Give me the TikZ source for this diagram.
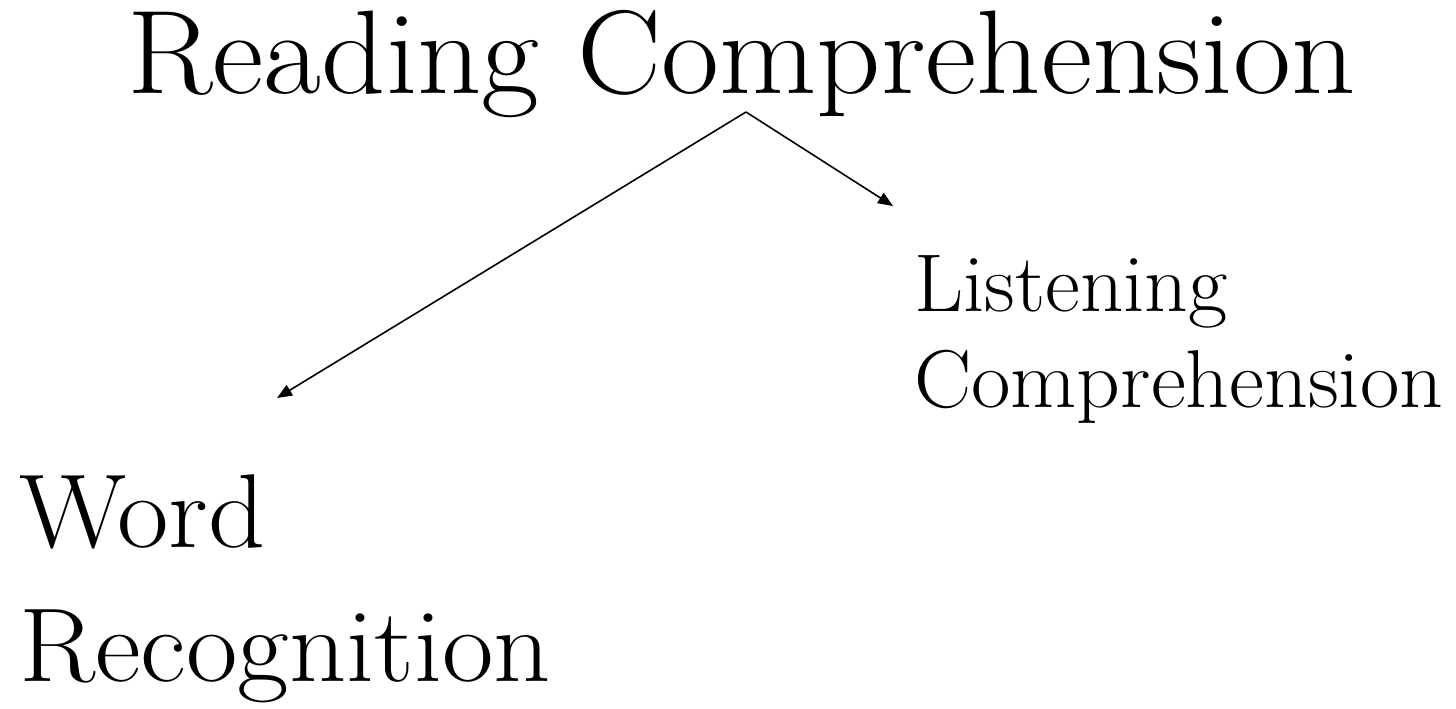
\documentclass[tikz,border=0pt]{standalone}
\usetikzlibrary{arrows.meta}
\begin{document}
\begin{tikzpicture}[x=1pt,y=-1pt,
  label/.style={inner sep=0pt,anchor=base west},
  link/.style={line width=1.6pt,-{Triangle[length=15pt,width=12pt]}}]
\useasboundingbox (0,0) rectangle (1456,709);
% title and the two components
\node[label,font=\fontsize{119}{140}\selectfont] (rc) at (127,93) {\scalebox{1.058}[1]{Reading Comprehension}};
\node[label,font=\fontsize{82}{97}\selectfont] (lc1) at (914,311) {\scalebox{1.04}[1]{Listening}};
\node[label,font=\fontsize{82}{97}\selectfont] (lc2) at (914,407) {\scalebox{1.045}[1]{Comprehension}};
\node[label,font=\fontsize{105}{134}\selectfont] (wr1) at (19,547) {\scalebox{1.067}[1]{Word}};
\node[label,font=\fontsize{105}{134}\selectfont] (wr2) at (19,681) {\scalebox{1.067}[1]{Recognition}};
% connector points
\coordinate (apex) at (746,112);
\coordinate (lctip) at (893,206);
\coordinate (wrtip) at (277,398);
\draw[link] (apex) -- (wrtip);
\draw[link] (apex) -- (lctip);
\end{tikzpicture}
\end{document}
